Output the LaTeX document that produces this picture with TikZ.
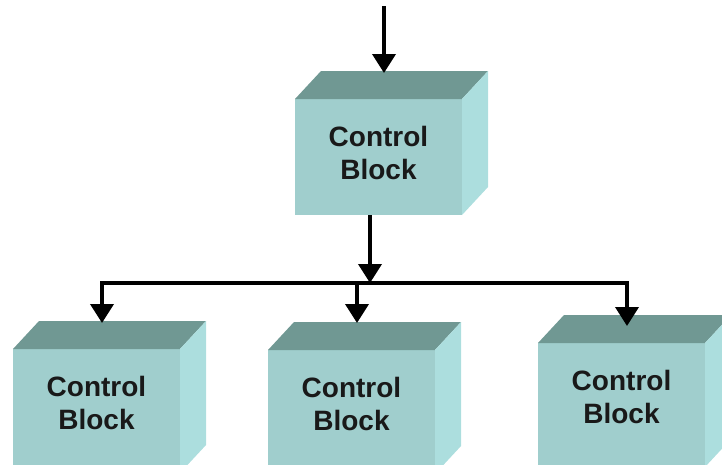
\documentclass[tikz,border=0pt]{standalone}
\usepackage{fontspec}
\setmainfont{Liberation Sans}
\usetikzlibrary{arrows.meta}

\definecolor{cubefront}{RGB}{160,206,205}
\definecolor{cubetop}{RGB}{112,152,147}
\definecolor{cubeside}{RGB}{172,222,222}

\tikzset{
  lbl/.style={font=\fontsize{28}{33}\selectfont\bfseries, align=center,
              text=black!90, inner sep=0pt},
  link/.style={line width=3.8pt, draw=black,
               -{Triangle[length=19pt,width=23pt]}},
  % a shaded block seen from above right: front face, top face, side face
  pics/cubeblock/.style args={#1/#2}{code={
    \fill[cubefront] (0,0) rectangle (#1,#2);
    \fill[cubetop] (0,0) -- (26,-28) -- (#1+26,-28) -- (#1,0) -- cycle;
    \fill[cubeside] (#1,0) -- (#1+26,-28) -- (#1+26,#2-28) -- (#1,#2) -- cycle;
    \node[lbl] (-text) at (#1/2,54) {Control\\Block};
  }}
}

\begin{document}
\begin{tikzpicture}[x=1pt,y=-1pt]
  \useasboundingbox (0,0) rectangle (722,464);
  \clip (0,0) rectangle (722,464);

  % blocks
  \pic (main)  at (295,99)  {cubeblock=167/116};
  \pic (left)  at (13,349)  {cubeblock=167/124};
  \pic (mid)   at (268,350) {cubeblock=167/124};
  \pic (right) at (538,343) {cubeblock=167/124};

  % connector end points
  \coordinate (src)     at (384,6);
  \coordinate (mainin)  at (384,73);
  \coordinate (mainout) at (370,215);
  \coordinate (split)   at (370,283);
  \coordinate (leftin)  at (102,323);
  \coordinate (midin)   at (357,323);
  \coordinate (rightin) at (627,326);

  % connectors
  \draw[link] (src) -- (mainin);
  \draw[link] (mainout) -- (split);
  \draw[link] (split) -| (leftin);
  \draw[link] (split) -| (midin);
  \draw[link] (split) -| (rightin);
\end{tikzpicture}
\end{document}
